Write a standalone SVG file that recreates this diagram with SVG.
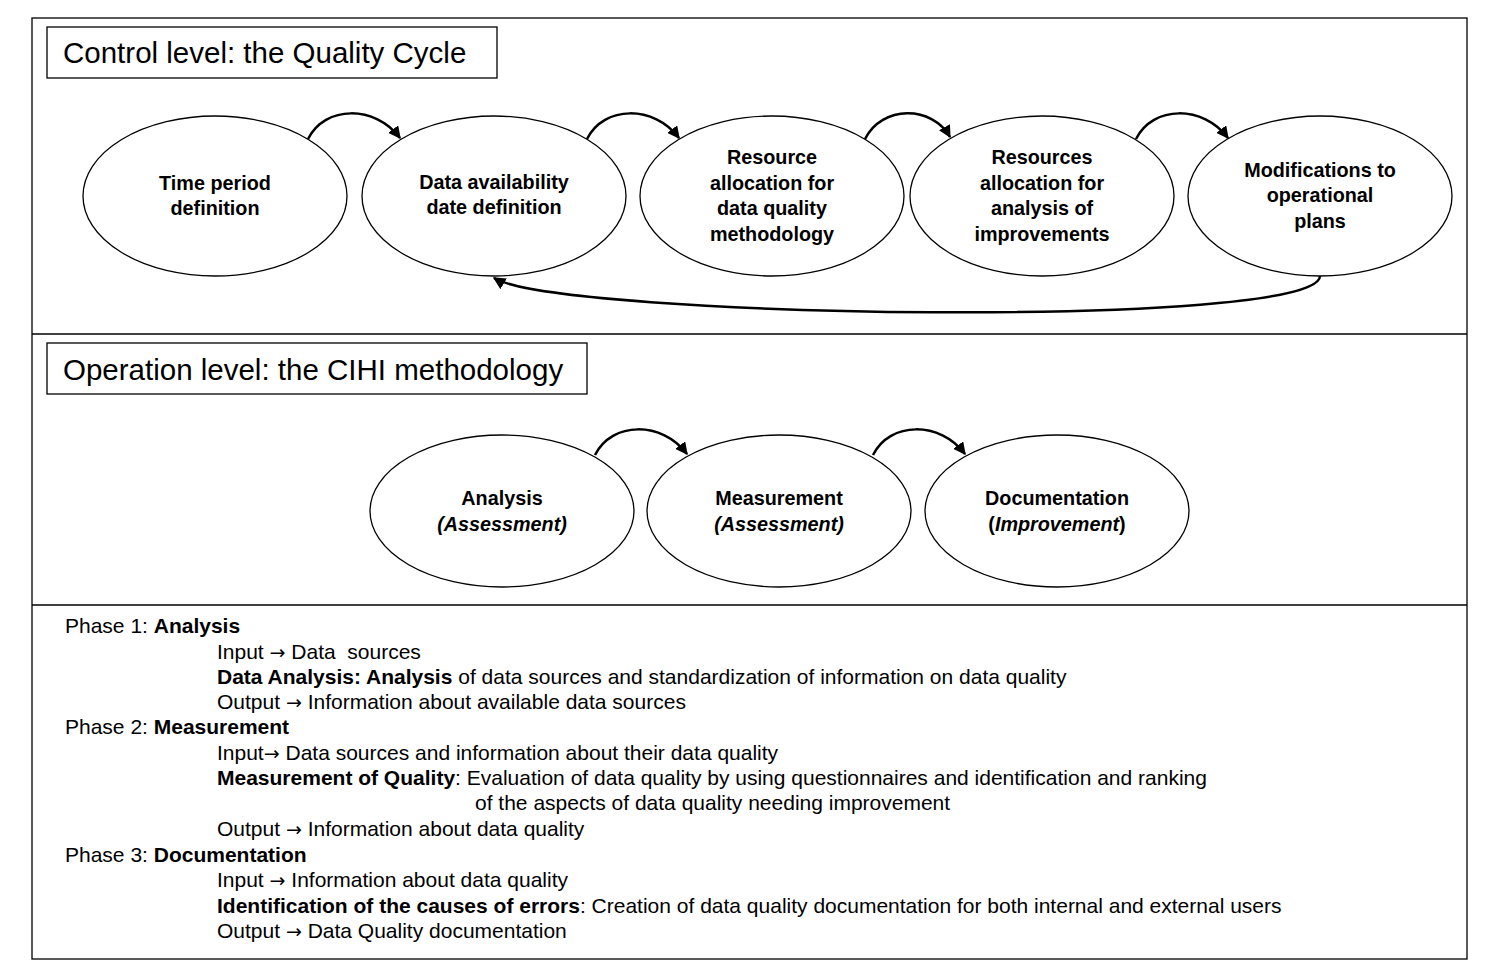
<svg xmlns="http://www.w3.org/2000/svg" width="1485" height="961" viewBox="0 0 1485 961">
<style>
text{font-family:"Liberation Sans",Arial,sans-serif;fill:#000}
.n{font-size:19.8px;font-weight:bold;text-anchor:middle}
.t{font-size:29.5px}
.p{font-size:21px}
.ar{font-family:"DejaVu Sans",sans-serif;font-size:19px}
ellipse,rect{fill:#fff;stroke:#000;stroke-width:1.3}
.c{fill:none;stroke:#000;stroke-width:2.5}
</style>
<defs><marker id="a" viewBox="0 0 10 10" refX="9" refY="5" markerWidth="5" markerHeight="5" orient="auto"><path d="M0,0L10,5L0,10z"/></marker></defs>
<rect x="0" y="0" width="1485" height="961" style="stroke:none"/>
<rect x="32" y="18" width="1435" height="941"/>
<line x1="32" y1="334" x2="1467" y2="334" stroke="#000" stroke-width="1.3"/>
<line x1="32" y1="605" x2="1467" y2="605" stroke="#000" stroke-width="1.3"/>
<g id="title1"><rect x="47" y="27" width="450" height="51"/><text class="t" x="63" y="63">Control level: the Quality Cycle</text></g>
<g id="title2"><rect x="47" y="343" width="540" height="51"/><text class="t" x="63" y="380">Operation level: the CIHI methodology</text></g>
<g id="n1"><ellipse cx="215" cy="196" rx="132" ry="80"/><text class="n" x="215" y="190">Time period</text><text class="n" x="215" y="215">definition</text></g>
<g id="n2"><ellipse cx="494" cy="196" rx="132" ry="80"/><text class="n" x="494" y="189">Data availability</text><text class="n" x="494" y="214">date definition</text></g>
<g id="n3"><ellipse cx="772" cy="196" rx="132" ry="80"/><text class="n" x="772" y="164">Resource</text><text class="n" x="772" y="190">allocation for</text><text class="n" x="772" y="215">data quality</text><text class="n" x="772" y="241">methodology</text></g>
<g id="n4"><ellipse cx="1042" cy="196" rx="132" ry="80"/><text class="n" x="1042" y="164">Resources</text><text class="n" x="1042" y="190">allocation for</text><text class="n" x="1042" y="215">analysis of</text><text class="n" x="1042" y="241">improvements</text></g>
<g id="n5"><ellipse cx="1320" cy="196" rx="132" ry="80"/><text class="n" x="1320" y="177">Modifications to</text><text class="n" x="1320" y="202">operational</text><text class="n" x="1320" y="228">plans</text></g>
<g id="o1"><ellipse cx="502" cy="511" rx="132" ry="76"/><text class="n" x="502" y="505">Analysis</text><text class="n" x="502" y="531" font-style="italic">(Assessment)</text></g>
<g id="o2"><ellipse cx="779" cy="511" rx="132" ry="76"/><text class="n" x="779" y="505">Measurement</text><text class="n" x="779" y="531" font-style="italic">(Assessment)</text></g>
<g id="o3"><ellipse cx="1057" cy="511" rx="132" ry="76"/><text class="n" x="1057" y="505">Documentation</text><text class="n" x="1057" y="531">(<tspan font-style="italic">Improvement</tspan>)</text></g>
<g id="connectors">
<path class="c" marker-end="url(#a)" d="M308,139 C325,105 375,105 400,138"/>
<path class="c" marker-end="url(#a)" d="M587,139 C604,105 654,105 679,138"/>
<path class="c" marker-end="url(#a)" d="M865,139 C882,105 932,105 950,137"/>
<path class="c" marker-end="url(#a)" d="M1136,139 C1153,105 1203,105 1228,138"/>
<path class="c" marker-end="url(#a)" d="M1320,276 C1320,330 560,318 494,278"/>
<path class="c" marker-end="url(#a)" d="M595,455 C612,421 662,421 687,454"/>
<path class="c" marker-end="url(#a)" d="M873,455 C890,421 940,421 965,454"/>
</g>
<g id="phases">
<text class="p" x="65" y="633">Phase 1: <tspan font-weight="bold">Analysis</tspan></text>
<text class="p" x="217" y="659">Input <tspan class="ar">→</tspan> Data&#160; sources</text>
<text class="p" x="217" y="684"><tspan font-weight="bold">Data Analysis: Analysis</tspan> of data sources and standardization of information on data quality</text>
<text class="p" x="217" y="709">Output <tspan class="ar">→</tspan> Information about available data sources</text>
<text class="p" x="65" y="734">Phase 2: <tspan font-weight="bold">Measurement</tspan></text>
<text class="p" x="217" y="760">Input<tspan class="ar">→</tspan> Data sources and information about their data quality</text>
<text class="p" x="217" y="785"><tspan font-weight="bold">Measurement of Quality</tspan>: Evaluation of data quality by using questionnaires and identification and ranking</text>
<text class="p" x="475" y="810">of the aspects of data quality needing improvement</text>
<text class="p" x="217" y="836">Output <tspan class="ar">→</tspan> Information about data quality</text>
<text class="p" x="65" y="862">Phase 3: <tspan font-weight="bold">Documentation</tspan></text>
<text class="p" x="217" y="887">Input <tspan class="ar">→</tspan> Information about data quality</text>
<text class="p" x="217" y="913"><tspan font-weight="bold">Identification of the causes of errors</tspan>: Creation of data quality documentation for both internal and external users</text>
<text class="p" x="217" y="938">Output <tspan class="ar">→</tspan> Data Quality documentation</text>
</g>
</svg>
